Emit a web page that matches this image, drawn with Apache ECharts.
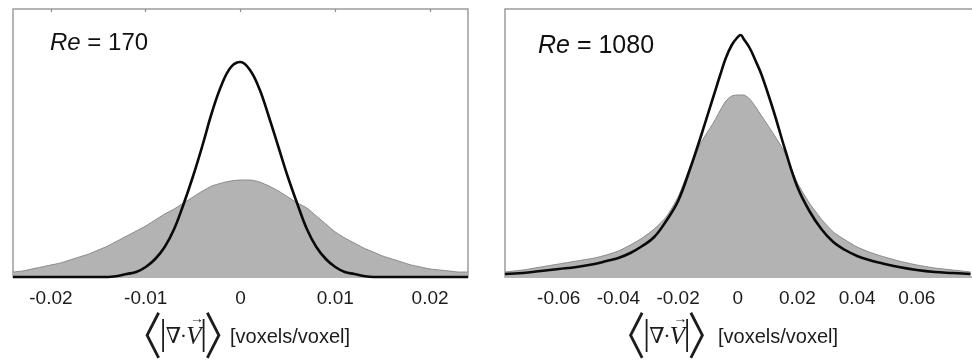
<!DOCTYPE html>
<html>
<head>
<meta charset="utf-8">
<script src="https://cdn.jsdelivr.net/npm/echarts@6/dist/echarts.min.js"></script>
<style>
  html, body { margin: 0; padding: 0; background: #fff; }
  #chart { width: 972px; height: 360px; }
</style>
</head>
<body>
<div id="chart"></div>
<script>
// Re = 170 panel (left)
const xLow = [
  -0.024, -0.023, -0.022, -0.021, -0.020, -0.019, -0.018, -0.017, -0.016, -0.015,
  -0.014, -0.013, -0.012, -0.011, -0.010, -0.009, -0.008, -0.007, -0.006, -0.005,
  -0.004, -0.003, -0.002, -0.001, 0, 0.001, 0.002, 0.003, 0.004, 0.005,
  0.006, 0.007, 0.008, 0.009, 0.010, 0.011, 0.012, 0.013, 0.014, 0.015,
  0.016, 0.017, 0.018, 0.019, 0.020, 0.021, 0.022, 0.023, 0.024
];
const grayLow = [
  5, 6, 8, 10, 12, 14, 17, 20, 23, 27,
  31, 36, 41, 46, 51, 57, 63, 68, 74, 80,
  86, 91, 94, 96, 97, 97, 95, 91, 86, 80,
  74, 69, 61, 53, 45, 39, 34, 29, 25, 21,
  18, 15, 12, 10, 8, 7, 6, 5, 5
];
const blackLow = [
  0, 0, 0, 0, 0, 0, 0, 0, 0, 0,
  0, 1, 3, 5, 10, 18, 30, 48, 73, 101,
  132, 165, 192, 210, 215, 207, 188, 160, 130, 100,
  73, 48, 30, 18, 10, 5, 3, 1, 0, 0,
  0, 0, 0, 0, 0, 0, 0, 0, 0
];
const ticksLow = [-0.02, -0.01, 0, 0.01, 0.02];

// Re = 1080 panel (right)
const xHigh = [
  -0.078, -0.072, -0.066, -0.060, -0.054, -0.048, -0.044, -0.040, -0.036, -0.032,
  -0.028, -0.024, -0.020, -0.016, -0.012, -0.008, -0.006, -0.004, -0.002, 0,
  0.001, 0.002, 0.004, 0.006, 0.008, 0.012, 0.016, 0.020, 0.024, 0.028,
  0.032, 0.036, 0.040, 0.044, 0.048, 0.054, 0.060, 0.066, 0.072, 0.078
];
const grayHigh = [
  5, 7, 10, 13, 16, 19, 22, 26, 32, 39,
  48, 60, 80, 110, 136, 155, 166, 176, 181, 182,
  182, 182, 178, 170, 161, 143, 123, 94, 74, 58,
  45, 37, 30, 25, 21, 16, 12, 9, 7, 5
];
const blackHigh = [
  3, 4, 6, 8, 10, 13, 16, 19, 24, 31,
  40, 56, 76, 108, 144, 182, 201, 219, 232, 240,
  242, 238, 229, 216, 202, 166, 126, 90, 66, 48,
  35, 27, 21, 17, 14, 10, 7, 5, 4, 3
];
const ticksHigh = [-0.06, -0.04, -0.02, 0, 0.02, 0.04, 0.06];

const FILL = '#b3b3b3';
const EDGE = '#8a8a8a';
const FRAME = '#9c9c9c';
const SANS = '"Liberation Sans", Arial, sans-serif';
const SERIF = '"Liberation Serif", "DejaVu Serif", serif';
const CJK = '"Noto Sans CJK SC", sans-serif';

function pairs(xs, ys) {
  return xs.map((x, i) => [x, ys[i]]);
}

function xAxisFor(gridIndex, min, max, ticks) {
  return {
    type: 'value',
    gridIndex,
    min,
    max,
    axisLine: { show: false },
    axisTick: { show: false },
    splitLine: { show: false },
    axisLabel: {
      customValues: ticks,
      margin: 12,
      fontSize: 19,
      fontFamily: SANS,
      color: '#1c1c1c',
      formatter: v => (Math.abs(v) < 1e-9 ? '0' : v.toFixed(2))
    }
  };
}

// small marks on the top frame at the label positions
function topTicks(gridIndex, min, max, ticks) {
  return {
    type: 'value',
    gridIndex,
    position: 'top',
    min,
    max,
    axisLine: { show: false },
    splitLine: { show: false },
    axisLabel: { show: false },
    axisTick: { show: true, inside: true, length: 3, customValues: ticks, lineStyle: { color: '#8c8c8c', width: 1.2 } }
  };
}

function yAxisFor(gridIndex) {
  return { type: 'value', gridIndex, min: 0, max: 268, show: false };
}

function areaSeries(idx, xs, ys) {
  return {
    type: 'line',
    xAxisIndex: idx,
    yAxisIndex: idx,
    data: pairs(xs, ys),
    showSymbol: false,
    smooth: 0.2,
    lineStyle: { color: EDGE, width: 1 },
    areaStyle: { color: FILL, opacity: 1 },
    z: 2
  };
}

function curveSeries(idx, xs, ys) {
  return {
    type: 'line',
    xAxisIndex: idx,
    yAxisIndex: idx,
    data: pairs(xs, ys),
    showSymbol: false,
    smooth: 0.4,
    clip: false,
    lineStyle: { color: '#0a0a0a', width: 2.6 },
    z: 3
  };
}

// the axis title: <|div V|> [voxels/voxel]
function mathTitle(x0, textX) {
  const cy = 337;
  const t = (x, y, text, extra) => ({
    type: 'text', x, y, silent: true,
    style: Object.assign({
      text, fill: '#1c1c1c', fontFamily: SERIF, fontSize: 24,
      align: 'center', verticalAlign: 'middle'
    }, extra || {})
  });
  const left = t(x0 - 11, cy - 2, '\u3008', { fontSize: 50, fontFamily: CJK });
  left.scaleX = 0.8;
  const right = t(x0 + 71, cy - 2, '\u3009', { fontSize: 50, fontFamily: CJK });
  right.scaleX = 0.8;
  return [
    left,
    t(x0 + 10, cy - 2, '|', { fontSize: 36 }),
    t(x0 + 20.5, cy, '\u2207', { fontSize: 22 }),
    t(x0 + 30.5, cy, '\u00B7', { fontSize: 22 }),
    t(x0 + 41, cy, 'V', { fontStyle: 'italic', fontSize: 25 }),
    t(x0 + 44, cy - 18, '\u2192', { fontSize: 14 }),
    t(x0 + 50.5, cy - 2, '|', { fontSize: 36 }),
    right,
    t(textX, cy, '[voxels/voxel]', { fontFamily: SANS, fontSize: 20, align: 'left' })
  ];
}

function reLabel(x, y, value, size) {
  return {
    type: 'text', x, y, silent: true,
    style: {
      text: '{i|Re} = ' + value,
      fill: '#111', fontFamily: SANS, fontSize: size,
      verticalAlign: 'middle',
      rich: { i: { fontStyle: 'italic', fontFamily: SANS, fontSize: size, fill: '#111' } }
    }
  };
}

const chart = echarts.init(document.getElementById('chart'), null, { renderer: 'canvas' });

chart.setOption({
  animation: false,
  backgroundColor: '#fff',
  grid: [
    { left: 13, top: 9, width: 455, height: 268, show: true, borderColor: FRAME, borderWidth: 1.5, backgroundColor: '#fff', outerBoundsMode: 'none', containLabel: false },
    { left: 505, top: 9, width: 470, height: 268, show: true, borderColor: FRAME, borderWidth: 1.5, backgroundColor: '#fff', outerBoundsMode: 'none', containLabel: false }
  ],
  xAxis: [
    xAxisFor(0, -0.024, 0.024, ticksLow),
    xAxisFor(1, -0.078, 0.0795, ticksHigh),
    topTicks(0, -0.024, 0.024, ticksLow)
  ],
  yAxis: [yAxisFor(0), yAxisFor(1)],
  series: [
    areaSeries(0, xLow, grayLow),
    curveSeries(0, xLow, blackLow),
    areaSeries(1, xHigh, grayHigh),
    curveSeries(1, xHigh, blackHigh)
  ],
  graphic: [
    reLabel(50, 43, '170', 24),
    reLabel(538, 46, '1080', 25)
  ].concat(mathTitle(153, 230), mathTitle(636.5, 718))
});
</script>
</body>
</html>
